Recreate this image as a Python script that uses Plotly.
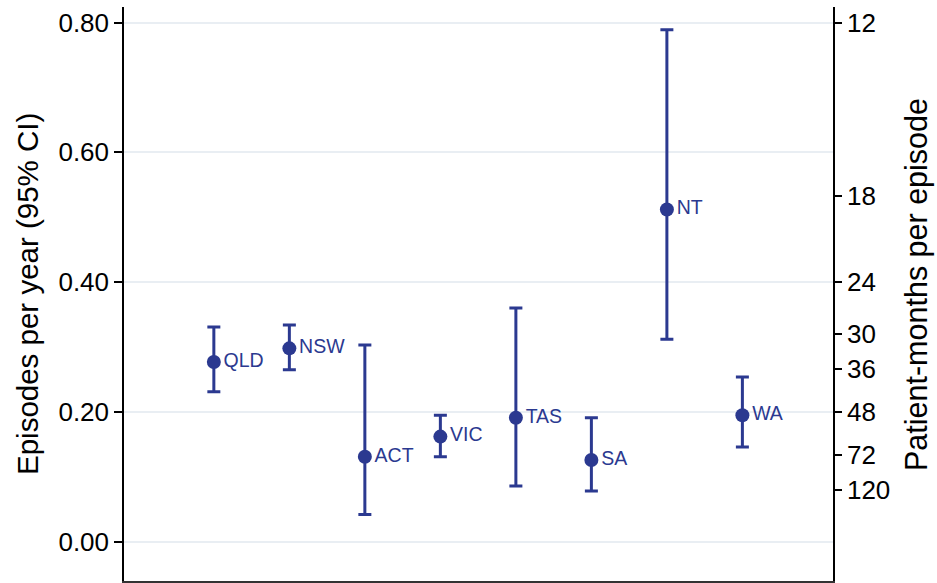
import plotly.graph_objects as go

states = ["QLD", "NSW", "ACT", "VIC", "TAS", "SA", "NT", "WA"]
positions = [1, 2, 3, 4, 5, 6, 7, 8]
rate = [0.277, 0.298, 0.131, 0.162, 0.191, 0.126, 0.512, 0.195]
ci_low = [0.231, 0.265, 0.042, 0.131, 0.086, 0.078, 0.312, 0.146]
ci_high = [0.331, 0.334, 0.303, 0.195, 0.360, 0.191, 0.789, 0.254]

left_ticks = [0.0, 0.2, 0.4, 0.6, 0.8]
left_ticktext = ["0.00", "0.20", "0.40", "0.60", "0.80"]
months_ticks = [12, 18, 24, 30, 36, 48, 72, 120]
months_scale = 9.6  # rate position = months_scale / months

navy = "#2b3990"
font_family = "Arial, Liberation Sans, Helvetica, sans-serif"

err_plus = [h - r for h, r in zip(ci_high, rate)]
err_minus = [r - l for r, l in zip(rate, ci_low)]

fig = go.Figure()
fig.add_trace(go.Scatter(
    x=positions, y=rate, mode="markers+text",
    text=states, textposition="middle right",
    textfont=dict(family=font_family, size=19.5, color=navy),
    marker=dict(color=navy, size=14),
    error_y=dict(type="data", symmetric=False, array=err_plus, arrayminus=err_minus,
                 color=navy, thickness=3, width=6.5),
    showlegend=False, cliponaxis=False,
))
# invisible trace to activate right axis
fig.add_trace(go.Scatter(x=[positions[0]], y=[rate[0]], yaxis="y2", mode="markers",
                         marker=dict(opacity=0), showlegend=False, hoverinfo="skip"))

yrange = [-0.0605, 0.824]
fig.update_layout(
    width=937, height=583,
    margin=dict(l=124, r=104, t=7, b=2),
    paper_bgcolor="white", plot_bgcolor="white",
    font=dict(family=font_family, color="black"),
    xaxis=dict(range=[-0.19, 9.2], showgrid=False, zeroline=False, showticklabels=False,
               ticks="", showline=True, linecolor="#333333", linewidth=2.5, automargin=False),
    yaxis=dict(range=yrange, tickvals=left_ticks, ticktext=left_ticktext,
               ticks="outside", ticklen=8, tickwidth=1.5, tickcolor="black",
               tickfont=dict(size=26), automargin=False,
               showline=True, linecolor="black", linewidth=1.5,
               showgrid=True, gridcolor="#e9eef3", gridwidth=2, zeroline=False),
    yaxis2=dict(range=yrange, overlaying="y", side="right", automargin=False,
                tickvals=[months_scale / m for m in months_ticks],
                ticktext=[str(m) for m in months_ticks],
                ticks="outside", ticklen=7, tickwidth=1.5, tickcolor="black",
                tickfont=dict(size=26),
                showline=True, linecolor="black", linewidth=1.5,
                showgrid=False, zeroline=False),
    annotations=[
        dict(text="Episodes per year (95% CI)", textangle=-90, xref="paper", yref="paper",
             x=-0.1368, y=0.5, xanchor="center", yanchor="middle", showarrow=False,
             font=dict(size=29.5, color="black")),
        dict(text="Patient-months per episode", textangle=-90, xref="paper", yref="paper",
             x=1.1185, y=0.5157, xanchor="center", yanchor="middle", showarrow=False,
             font=dict(size=30.5, color="black")),
    ],
)
fig.write_html("out.html", config={"displayModeBar": False},
               post_script="document.body.style.margin='0';document.body.style.overflow='hidden';")
